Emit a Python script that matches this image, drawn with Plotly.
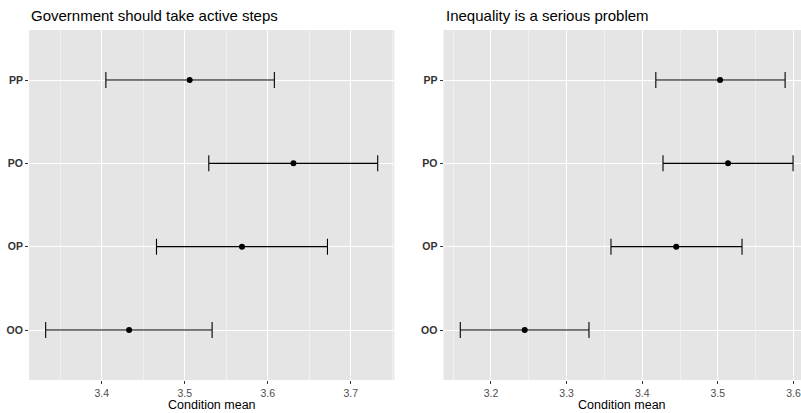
import plotly.graph_objects as go

categories = ["PP", "PO", "OP", "OO"]
cat_order = ["OO", "OP", "PO", "PP"]

gov_mean = [3.506, 3.631, 3.569, 3.433]
gov_lower = [3.405, 3.529, 3.466, 3.3325]
gov_upper = [3.608, 3.7325, 3.672, 3.533]

ineq_mean = [3.503, 3.5135, 3.445, 3.2446]
ineq_lower = [3.418, 3.4275, 3.3587, 3.1594]
ineq_upper = [3.589, 3.5995, 3.532, 3.3296]

titles = ["Government should take active steps", "Inequality is a serious problem"]
x_title = "Condition mean"

W, H = 801, 413
FONT = "Liberation Sans, Arial, sans-serif"

fig = go.Figure()

def add_panel(mean, lower, upper, xa, ya):
    fig.add_trace(go.Scatter(
        x=mean, y=categories, mode="markers",
        marker=dict(color="black", size=6),
        error_x=dict(type="data", symmetric=False,
                     array=[u - m for u, m in zip(upper, mean)],
                     arrayminus=[m - l for m, l in zip(mean, lower)],
                     color="black", thickness=1.1, width=8),
        xaxis=xa, yaxis=ya, showlegend=False, hoverinfo="skip"))

add_panel(gov_mean, gov_lower, gov_upper, "x", "y")
add_panel(ineq_mean, ineq_lower, ineq_upper, "x2", "y2")

ydom = [1 - 380 / H, 1 - 30 / H]
xdom1 = [29 / W, 394.3 / W]
xdom2 = [443.5 / W, 1.0]

xcommon = dict(showgrid=True, gridcolor="white", gridwidth=1.1, zeroline=False,
               ticks="outside", ticklen=3, tickcolor="#333333", tickwidth=1,
               tickfont=dict(family=FONT, size=10.5, color="#4D4D4D"),
               dtick=0.1, tick0=3.0, tickformat=".1f",
               minor=dict(dtick=0.05, tick0=3.0, showgrid=True, gridcolor="#F0F0F0", gridwidth=0.5),
               showline=False, fixedrange=True)
ycommon = dict(type="category", categoryorder="array", categoryarray=cat_order,
               range=[-0.6, 3.6], domain=ydom,
               showgrid=True, gridcolor="white", gridwidth=1.1, zeroline=False,
               ticks="outside", ticklen=3, tickcolor="#333333", tickwidth=1,
               tickfont=dict(family=FONT, size=10.5, color="#333333", weight="bold"),
               showline=False, fixedrange=True)

fig.update_layout(
    width=W, height=H, margin=dict(l=0, r=0, t=0, b=0),
    paper_bgcolor="white", plot_bgcolor="#E5E5E5",
    font=dict(family=FONT),
    xaxis=dict(domain=xdom1, range=[3.3124, 3.7525], anchor="y", **xcommon),
    yaxis=dict(anchor="x", **ycommon),
    xaxis2=dict(domain=xdom2, range=[3.1372, 3.6100], anchor="y2", **xcommon),
    yaxis2=dict(anchor="x2", **ycommon),
)

for dom, t in zip([xdom1, xdom2], titles):
    fig.add_annotation(text=t, xref="paper", yref="paper", x=dom[0], y=1 - 15 / H,
                       xanchor="left", yanchor="middle", showarrow=False,
                       font=dict(family=FONT, size=15, color="black"))
    fig.add_annotation(text=x_title, xref="paper", yref="paper",
                       x=(dom[0] + dom[1]) / 2,
                       y=1 - 405 / H, xanchor="center", yanchor="middle", showarrow=False,
                       font=dict(family=FONT, size=12.5, color="black"))

fig.write_html("out.html")
